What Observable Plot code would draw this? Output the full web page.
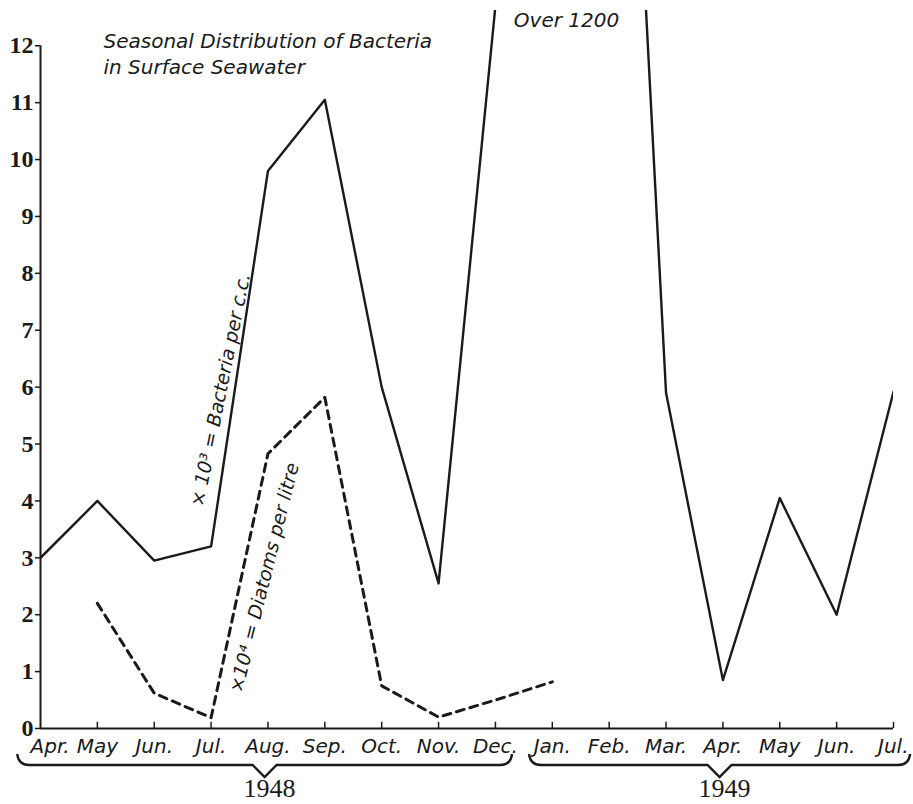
<!DOCTYPE html>
<html>
<head>
<meta charset="utf-8">
<script src="https://cdn.jsdelivr.net/npm/d3@7"></script>
<script src="https://cdn.jsdelivr.net/npm/@observablehq/plot@0.6"></script>
<style>
  html, body { margin: 0; padding: 0; background: #fff; }
  #chart svg { display: block; overflow: hidden; }
</style>
</head>
<body>
<div id="chart"></div>
<script>
// Month categories (Apr. 1948 – Jul. 1949)
const months = ["Apr.","May","Jun.","Jul.","Aug.","Sep.","Oct.","Nov.","Dec.","Jan.","Feb.","Mar.","Apr.","May","Jun.","Jul."];
// ×10³ bacteria per c.c. (Dec.–Feb. "Over 1200", drawn off the top; Jan. not plotted)
const bacteria = [3.0, 4.0, 2.95, 3.2, 9.8, 11.05, 6.0, 2.55, 12.7, null, 25, 5.9, 0.85, 4.05, 2.0, 5.92];
// ×10⁴ diatoms per litre
const diatoms = [null, 2.2, 0.62, 0.19, 4.83, 5.82, 0.75, 0.2, 0.5, 0.82, null, null, null, null, null, null];
// y tick values
const yTicks = [0,1,2,3,4,5,6,7,8,9,10,11,12];
// year groups (first and last month index)
const years = ["1948", "1949"];
const yearStart = [0, 9];
const yearEnd = [8, 15];

const idx = months.map((d, i) => i);
const bactData = idx.map(i => ({i, v: bacteria[i]}));
const diatData = idx.map(i => ({i, v: diatoms[i]}));
const yearData = years.map((y, k) => ({year: y, a: yearStart[k], b: yearEnd[k]}));

const italic = "DejaVu Sans";

function braces(index, scales, values, dimensions) {
  const x = scales.x;
  const yb = dimensions.height - dimensions.marginBottom;
  const g = d3.create("svg:g");
  for (const d of yearData) {
    const x0 = x(d.a - 0.4), x1 = x(d.b + 0.3), xm = (x0 + x1) / 2;
    const top = yb + 26, base = yb + 37, tip = yb + 49;
    g.append("path")
      .attr("fill", "none")
      .attr("stroke", "#1a1a1a")
      .attr("stroke-width", 2.4)
      .attr("stroke-linejoin", "miter")
      .attr("d", `M${x0},${top} Q${x0 + 1},${base} ${x0 + 12},${base} L${xm - 12},${base} L${xm},${tip} L${xm + 12},${base} L${x1 - 12},${base} Q${x1 - 1},${base} ${x1},${top}`);
    g.append("text")
      .attr("x", xm + 5)
      .attr("y", yb + 69)
      .attr("text-anchor", "middle")
      .attr("font-family", "Liberation Serif")
      .attr("font-size", 26)
      .attr("fill", "#1a1a1a")
      .text(d.year);
  }
  return g.node();
}

const chart = Plot.plot({
  width: 913,
  height: 804,
  marginLeft: 40,
  marginRight: 20,
  marginTop: 10,
  marginBottom: 76,
  style: {fontFamily: "Liberation Serif", color: "#1a1a1a", background: "#fff"},
  x: {domain: [0, 15], axis: null},
  y: {domain: [0, 12.62], axis: null},
  marks: [
    // y axis
    Plot.axisY({ticks: yTicks, tickSize: 5, tickPadding: 2, fontSize: 24, fontWeight: "bold", fontFamily: "Liberation Serif", label: null, strokeWidth: 1.5}),
    Plot.ruleX([0], {y1: 0, y2: 12, stroke: "#1a1a1a", strokeWidth: 2}),
    // x axis line and upward tick marks
    Plot.ruleY([0], {x1: 0, x2: 15, stroke: "#1a1a1a", strokeWidth: 2.2}),
    Plot.ruleX(idx.slice(1), {y1: 0, y2: 0.11, stroke: "#1a1a1a", strokeWidth: 1.5}),
    // month labels
    Plot.text(idx.slice(0, 1), {x: d => d, text: d => months[d], frameAnchor: "bottom", lineAnchor: "top", dy: 10, dx: -10, textAnchor: "start", fontFamily: italic, fontStyle: "italic", fontSize: 20, fill: "#1a1a1a"}),
    Plot.text(idx.slice(1, -1), {x: d => d, text: d => months[d], frameAnchor: "bottom", lineAnchor: "top", dy: 10, textAnchor: "middle", fontFamily: italic, fontStyle: "italic", fontSize: 20, fill: "#1a1a1a"}),
    Plot.text(idx.slice(-1), {x: d => d, text: d => months[d], frameAnchor: "bottom", lineAnchor: "top", dy: 10, dx: 15, textAnchor: "end", fontFamily: italic, fontStyle: "italic", fontSize: 20, fill: "#1a1a1a"}),
    // data lines
    Plot.line(bactData, {x: "i", y: "v", stroke: "#1a1a1a", strokeWidth: 2.4, clip: true}),
    Plot.line(diatData, {x: "i", y: "v", stroke: "#1a1a1a", strokeWidth: 3, strokeDasharray: "8,6"}),
    // annotations
    Plot.text(["Seasonal Distribution of Bacteria\nin Surface Seawater"], {frameAnchor: "top-left", dx: 63, dy: 19, textAnchor: "start", lineAnchor: "top", lineHeight: 1.3, fontFamily: italic, fontStyle: "italic", fontSize: 20, fill: "#1a1a1a"}),
    Plot.text(["Over 1200"], {x: 9.25, y: 12.44, textAnchor: "middle", lineAnchor: "middle", fontFamily: italic, fontStyle: "italic", fontSize: 20, fill: "#1a1a1a"}),
    Plot.text(["× 10³ = Bacteria per c.c."], {x: 3.17, y: 5.95, rotate: -78.6, textAnchor: "middle", lineAnchor: "middle", fontFamily: italic, fontStyle: "italic", fontSize: 19, fill: "#1a1a1a"}),
    Plot.text(["×10⁴ = Diatoms per litre"], {x: 3.94, y: 2.65, rotate: -76, textAnchor: "middle", lineAnchor: "middle", fontFamily: italic, fontStyle: "italic", fontSize: 19, fill: "#1a1a1a"}),
    // year braces
    braces
  ]
});
document.getElementById("chart").appendChild(chart);
</script>
</body>
</html>
